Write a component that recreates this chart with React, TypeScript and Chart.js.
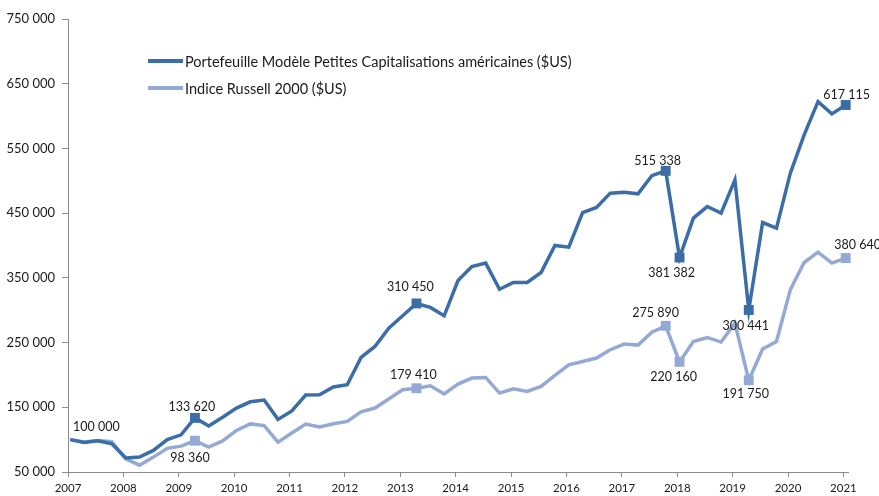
import React, { useEffect, useRef } from "react";
import { Chart, registerables } from "chart.js";

Chart.register(...registerables);

// Quarterly observation months (categories)
const periods: string[] = [
  "2007-01", "2007-04", "2007-07", "2007-10",
  "2008-01", "2008-04", "2008-07", "2008-10",
  "2009-01", "2009-04", "2009-07", "2009-10",
  "2010-01", "2010-04", "2010-07", "2010-10",
  "2011-01", "2011-04", "2011-07", "2011-10",
  "2012-01", "2012-04", "2012-07", "2012-10",
  "2013-01", "2013-04", "2013-07", "2013-10",
  "2014-01", "2014-04", "2014-07", "2014-10",
  "2015-01", "2015-04", "2015-07", "2015-10",
  "2016-01", "2016-04", "2016-07", "2016-10",
  "2017-01", "2017-04", "2017-07", "2017-10",
  "2018-01", "2018-04", "2018-07", "2018-10",
  "2019-01", "2019-04", "2019-07", "2019-10",
  "2020-01", "2020-04", "2020-07", "2020-10",
  "2021-01",
];

const portfolio: number[] = [
  100000, 95700, 98300, 93500,
  71600, 73000, 83400, 100000,
  107500, 133620, 121000, 134500,
  148800, 158500, 161200, 131300,
  144300, 168900, 169400, 181300,
  184800, 227000, 244000, 272400,
  291400, 310450, 304300, 291400,
  345900, 367500, 372800, 332400,
  342800, 342800, 358300, 400000,
  397500, 450900, 458700, 480900,
  482400, 479800, 508000, 515338,
  381382, 442300, 460200, 450000,
  501400, 300441, 435500, 426800,
  511800, 570900, 622400, 603400,
  617115,
];

const russell: number[] = [
  100000, 96500, 98500, 97000,
  70500, 60500, 73000, 86500,
  90000, 98360, 88500, 98000,
  114200, 124300, 121700, 96000,
  110200, 124100, 119500, 124600,
  128100, 143000, 148800, 162700,
  177100, 179410, 183300, 170500,
  185900, 195200, 196100, 172000,
  178600, 174500, 182200, 199200,
  215700, 220800, 226100, 238900,
  247700, 246100, 266000, 275890,
  220160, 251700, 257900, 250800,
  280000, 191750, 240000, 251700,
  331600, 373700, 389700, 372800,
  380640,
];

const seriesNames: string[] = [
  "Portefeuille Modèle Petites Capitalisations américaines ($US)",
  "Indice Russell 2000 ($US)",
];

const xTickYears: number[] = [2007, 2008, 2009, 2010, 2011, 2012, 2013, 2014, 2015, 2016, 2017, 2018, 2019, 2020, 2021];
const yTickValues: number[] = [50000, 150000, 250000, 350000, 450000, 550000, 650000, 750000];

// Indices of highlighted (marked + labelled) points
const portfolioMarked: number[] = [9, 25, 43, 44, 49, 56];
const russellMarked: number[] = [9, 25, 43, 44, 49, 56];
const portfolioLabelled: number[] = [0, 9, 25, 43, 44, 49, 56];
const russellLabelled: number[] = [9, 25, 43, 44, 49, 56];

// label placement (style): pixel offsets from point
const portfolioLabelOffsets: [number, number][] = [
  [26, -13], [-3, -11], [-6, -16], [-8, -10], [-8, 15], [-3, 16], [1, -10],
];
const russellLabelOffsets: [number, number][] = [
  [-5, 17], [-3, -13], [-10, -13], [-6, 15], [-3, 14], [12, -13],
];

const DARK = "#3B6DA6";
const LIGHT = "#94A9D4";
const FONT = "Lato";

function fmt(v: number): string {
  return String(Math.round(v)).replace(/\B(?=(\d{3})+(?!\d))/g, " ");
}

function toDecimal(p: string): number {
  const [y, m] = p.split("-").map(Number);
  return y + (m - 1) / 12 + 1 / 24;
}

export default function App() {
  const ref = useRef<HTMLCanvasElement | null>(null);

  useEffect(() => {
    if (!ref.current) return;
    const xs = periods.map(toDecimal);
    const mk = (vals: number[], marked: number[]) =>
      vals.map((_, i) => (marked.includes(i) ? 7 : 0));

    const labelPlugin = {
      id: "labels",
      afterDatasetsDraw(chart: any) {
        const ctx = chart.ctx;
        ctx.save();
        ctx.font = `12.5px ${FONT}`;
        ctx.fillStyle = "#1a1a1a";
        ctx.textAlign = "center";
        ctx.textBaseline = "middle";
        const groups: [number, number[], [number, number][], number[]][] = [
          [0, portfolioLabelled, portfolioLabelOffsets, portfolio],
          [1, russellLabelled, russellLabelOffsets, russell],
        ];
        groups.forEach(([ds, idxs, offs, vals]) => {
          const meta = chart.getDatasetMeta(ds);
          idxs.forEach((i, k) => {
            const el = meta.data[i];
            ctx.fillText(fmt(vals[i]), el.x + offs[k][0], el.y + offs[k][1]);
          });
        });
        // legend
        const a = chart.chartArea;
        const lx = a.left + 80;
        const rows = [a.top + 42, a.top + 69];
        const cols = [DARK, LIGHT];
        ctx.textAlign = "left";
        ctx.font = `14.5px ${FONT}`;
        rows.forEach((ry, r) => {
          ctx.strokeStyle = cols[r];
          ctx.lineWidth = 4;
          ctx.beginPath();
          ctx.moveTo(lx, ry);
          ctx.lineTo(lx + 35, ry);
          ctx.stroke();
          ctx.fillStyle = "#1a1a1a";
          ctx.fillText(seriesNames[r], lx + 37, ry + 1);
        });
        ctx.restore();
      },
    };

    const chart = new Chart(ref.current, {
      type: "line",
      data: {
        datasets: [
          {
            label: seriesNames[0],
            data: portfolio.map((v, i) => ({ x: xs[i], y: v })),
            borderColor: DARK,
            backgroundColor: DARK,
            borderWidth: 3.5,
            pointStyle: "rect",
            pointRadius: mk(portfolio, portfolioMarked),
            pointBorderWidth: 0,
            tension: 0,
            clip: false,
          } as any,
          {
            label: seriesNames[1],
            data: russell.map((v, i) => ({ x: xs[i], y: v })),
            borderColor: LIGHT,
            backgroundColor: LIGHT,
            borderWidth: 3.5,
            pointStyle: "rect",
            pointRadius: mk(russell, russellMarked),
            pointBorderWidth: 0,
            tension: 0,
            clip: false,
          } as any,
        ],
      },
      options: {
        animation: false,
        responsive: true,
        maintainAspectRatio: false,
        layout: { padding: { left: 0, top: 19, right: 31, bottom: 0 } },
        plugins: { legend: { display: false }, tooltip: { enabled: false } },
        scales: {
          x: {
            type: "linear",
            min: xTickYears[0],
            max: xTickYears[xTickYears.length - 1] + 1 / 12,
            afterBuildTicks: (axis: any) => {
              axis.ticks = xTickYears.map((v) => ({ value: v }));
            },
            afterFit: (axis: any) => {
              axis.height = 24;
            },
            ticks: {
              autoSkip: false,
              maxRotation: 0,
              padding: 4,
              color: "#1a1a1a",
              font: { family: FONT, size: 11.5 },
              callback: (v: any) => String(v),
            },
            grid: { drawOnChartArea: false, tickLength: 5, color: "#8c8c8c" },
            border: { color: "#8c8c8c", width: 1 },
          },
          y: {
            type: "linear",
            min: yTickValues[0],
            max: yTickValues[yTickValues.length - 1],
            afterBuildTicks: (axis: any) => {
              axis.ticks = yTickValues.map((v) => ({ value: v }));
            },
            afterFit: (axis: any) => {
              axis.width = 68;
            },
            ticks: {
              padding: 7,
              color: "#1a1a1a",
              font: { family: FONT, size: 13 },
              callback: (v: any) => fmt(Number(v)),
            },
            grid: { drawOnChartArea: false, tickLength: 6, color: "#8c8c8c" },
            border: { color: "#8c8c8c", width: 1 },
          },
        },
      },
      plugins: [labelPlugin],
    } as any);
    return () => chart.destroy();
  }, []);

  return (
    <div style={{ position: "fixed", left: 0, top: 0, width: 879, height: 496, background: "#fff" }}>
      <canvas ref={ref} />
    </div>
  );
}
